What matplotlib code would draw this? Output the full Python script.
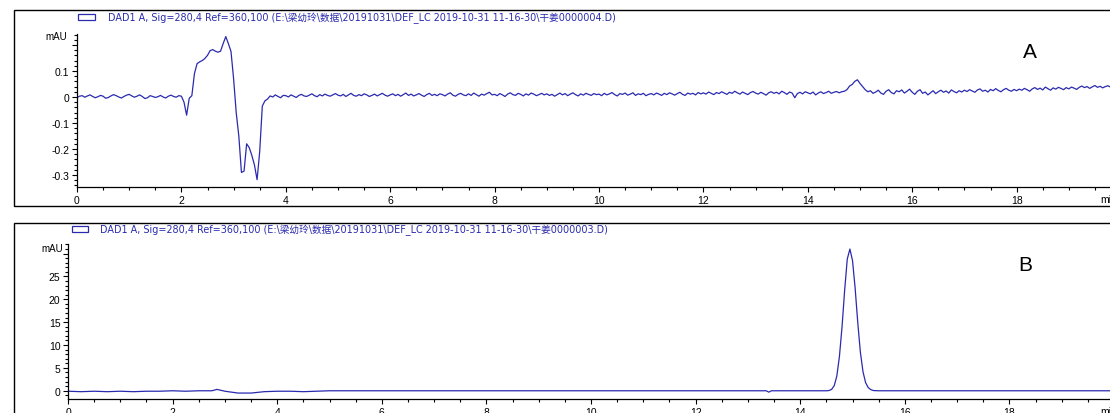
import matplotlib
matplotlib.use("Agg")
import matplotlib.pyplot as plt
import numpy as np
from matplotlib.patches import Rectangle
from matplotlib.ticker import MultipleLocator

plt.rcParams["font.family"] = ["Liberation Sans", "Noto Sans CJK SC", "DejaVu Sans"]

W, H = 1110, 414
BLUE = "#2a2ab0"

TITLE_A = r"DAD1 A, Sig=280,4 Ref=360,100 (E:\梁幼玲\数据\20191031\DEF_LC 2019-10-31 11-16-30\干姜0000004.D)"
TITLE_B = r"DAD1 A, Sig=280,4 Ref=360,100 (E:\梁幼玲\数据\20191031\DEF_LC 2019-10-31 11-16-30\干姜0000003.D)"

# trace A: one reading every 0.05 min, in 0.001 mAU
STEP_A = 0.05
SIGNAL_A = [
    -2, 3, 5, -1, 4, 8, 2, -3, 1, 6, 3, -5, -2, 4, 9, 5, 0, -4, 2, 7,
    10, 4, -1, 3, 8, 2, -6, -3, 5, 2, -2, 1, 6, 0, -4, 3, 7, 2, -1, 5,
    3, -20, -70, -5, 5, 90, 128, 135, 140, 148, 160, 178, 182, 176, 172, 176, 205, 232, 205, 175,
    70, -60, -150, -290, -285, -180, -195, -225, -262, -318, -210, -35, -15, -8, 4, 0, 8, 2, -3, 6,
    5, 0, 8, 3, -2, 6, 10, 4, 2, 7, 12, 5, 1, 9, 4, 11, 6, 3, 8, 13,
    7, 4, 10, 2, 8, 14, 6, 3, 9, 5, 12, 8, 2, 6, 11, 4, 9, 14, 7, 3,
    8, 12, 5, 10, 3, 9, 15, 6, 11, 4, 8, 13, 7, 2, 9, 14, 6, 10, 5, 12,
    9, 4, 11, 16, 7, 3, 10, 14, 8, 5, 12, 6, 15, 9, 3, 11, 7, 13, 18, 8,
    10, 5, 13, 8, 2, 11, 16, 9, 6, 14, 10, 4, 12, 7, 15, 11, 5, 9, 14, 8,
    12, 6, 10, 3, 9, 15, 8, 13, 5, 11, 16, 9, 4, 12, 7, 14, 10, 6, 13, 9,
    11, 5, 14, 8, 12, 17, 9, 4, 13, 10, 15, 7, 11, 16, 6, 12, 9, 14, 5, 10,
    13, 8, 15, 11, 6, 14, 9, 16, 12, 7, 13, 18, 10, 6, 15, 11, 14, 8, 17, 12,
    16, 11, 19, 14, 9, 17, 13, 20, 15, 10, 18, 14, 22, 16, 11, 19, 14, 9, 17, 21,
    15, 11, 18, 13, 7, 16, 20, 14, 18, 12, 22, 17, 10, 19, 15, -3, 13, 18, 12, 20,
    16, 12, 19, 8, 15, 20, 13, 17, 22, 14, 18, 21, 16, 20, 22, 28, 42, 48, 60, 66,
    52, 40, 28, 20, 24, 14, 19, 26, 15, 10, 22, 28, 17, 12, 24, 20, 27, 15, 22, 30,
    18, 10, 22, 28, 14, 19, 8, 16, 24, 13, 20, 26, 18, 23, 15, 27, 21, 16, 24, 19,
    26, 21, 28, 23, 18, 27, 31, 22, 26, 19, 29, 24, 32, 25, 20, 28, 33, 26, 22, 29,
    24, 30, 26, 33, 28, 22, 31, 36, 29, 34, 27, 38, 32, 26, 35, 30, 37, 33, 28, 36,
    31, 38, 34, 29, 37, 42, 36, 40, 33, 39, 44, 37, 41, 35, 40, 43, 38, 42, 36, 40,
]

# trace B: min / mAU
TIME_B = [0.0, 0.25, 0.5, 0.75, 1.0, 1.25, 1.5, 1.75, 2.0, 2.25, 2.5, 2.75, 2.85,
          3.0, 3.25, 3.5, 3.75, 4.0, 4.25, 4.5, 4.75,
          5.0, 5.5, 6.0, 6.5, 7.0, 7.5, 8.0, 8.5, 9.0, 9.5, 10.0, 10.5, 11.0, 11.5,
          12.0, 12.5, 13.0, 13.35, 13.4, 13.45, 14.0, 14.5,
          14.55, 14.6, 14.65, 14.7, 14.75, 14.8, 14.85, 14.9, 14.95, 15.0,
          15.05, 15.1, 15.15, 15.2, 15.25, 15.3, 15.35, 15.4, 15.5,
          16.0, 16.5, 17.0, 17.5, 18.0, 18.5, 19.0, 19.5, 20.0]
SIGNAL_B = [-0.1, -0.2, -0.1, -0.2, -0.1, -0.2, -0.1, -0.1, 0.0, -0.1, 0.0, 0.0, 0.3,
            -0.1, -0.5, -0.5, -0.2, -0.1, -0.1, -0.2, -0.1,
            0.0, 0.0, 0.0, 0.0, 0.0, 0.0, 0.0, 0.0, 0.0, 0.0, 0.0, 0.0, 0.0, 0.0,
            0.0, 0.0, 0.0, 0.0, -0.3, 0.0, 0.0, 0.0,
            0.05, 0.3, 1.1, 3.2, 7.5, 14.0, 22.0, 28.8, 31.0, 28.5,
            22.5, 15.0, 8.5, 4.2, 1.8, 0.7, 0.25, 0.05, 0.0,
            0.0, 0.0, 0.0, 0.0, 0.0, 0.0, 0.0, 0.0, 0.0]

# highest labelled y tick per panel (ChemStation leaves the top one for "mAU")
YLABEL_MAX_A = 0.1
YLABEL_MAX_B = 25


def fx(px):
    return px / W


def fy(py):
    return 1 - py / H


def style_axis(ax, ymajor, yminor, ylabel_max, fmt):
    for s in ("top", "right"):
        ax.spines[s].set_visible(False)
    for s in ("left", "bottom"):
        ax.spines[s].set_linewidth(0.9)
    ax.xaxis.set_major_locator(MultipleLocator(2))
    ax.xaxis.set_minor_locator(MultipleLocator(0.5))
    ax.yaxis.set_major_locator(MultipleLocator(ymajor))
    ax.yaxis.set_minor_locator(MultipleLocator(yminor))
    ax.yaxis.set_major_formatter(
        lambda v, p: "" if v > ylabel_max + 1e-9 else ("0" if abs(v) < 1e-9 else fmt(v)))
    ax.tick_params(which="both", direction="out", labelsize=7.5, width=0.8, pad=2)
    ax.tick_params(which="major", length=3.5)
    ax.tick_params(which="minor", length=2)
    ax.patch.set_alpha(0)


fig = plt.figure(figsize=(W / 100, H / 100), dpi=100)

# panel frames
fig.patches.append(Rectangle((fx(14), fy(207)), 1.2, fy(11) - fy(207),
                             transform=fig.transFigure, fill=False, lw=1, ec="black"))
fig.patches.append(Rectangle((fx(14), -0.2), 1.2, fy(224) + 0.2,
                             transform=fig.transFigure, fill=False, lw=1, ec="black"))

# --- A ---
axA = fig.add_axes([fx(77), fy(188), fx(W - 77), fy(35) - fy(188)])
time_a = np.arange(len(SIGNAL_A)) * STEP_A
axA.plot(time_a, np.array(SIGNAL_A) / 1000.0, color=BLUE, lw=0.9)
axA.set_xlim(0, (W - 77) / 52.2)
axA.set_ylim(-0.346, 0.242)
style_axis(axA, 0.1, 0.02, YLABEL_MAX_A, lambda v: f"{v:.1f}")

# --- B ---
axB = fig.add_axes([fx(68), fy(400), fx(W - 68), fy(245) - fy(400)])
axB.plot(TIME_B, SIGNAL_B, color=BLUE, lw=0.9)
axB.set_xlim(0, (W - 68) / 52.3)
axB.set_ylim(-1.8, 32.1)
style_axis(axB, 5, 1, YLABEL_MAX_B, lambda v: f"{v:.0f}")

# headers, legend boxes, units
fig.patches.append(Rectangle((fx(78), fy(21)), fx(17), fy(15) - fy(21),
                             transform=fig.transFigure, fill=False, lw=0.9, ec=BLUE))
fig.patches.append(Rectangle((fx(72), fy(233)), fx(16), fy(227) - fy(233),
                             transform=fig.transFigure, fill=False, lw=0.9, ec=BLUE))
head = ["DejaVu Sans", "Noto Sans CJK SC"]
fig.text(fx(108), fy(18), TITLE_A, fontsize=6.9, color=BLUE, va="center", ha="left", family=head)
fig.text(fx(100), fy(230), TITLE_B, fontsize=6.9, color=BLUE, va="center", ha="left", family=head)
fig.text(fx(67), fy(37), "mAU", fontsize=7, ha="right", va="center")
fig.text(fx(63), fy(249), "mAU", fontsize=7, ha="right", va="center")
fig.text(fx(1100), fy(200), "min", fontsize=7.5, ha="left", va="center")
fig.text(fx(1100), fy(412), "min", fontsize=7.5, ha="left", va="center")

fig.text(fx(1030), fy(52), "A", fontsize=15, ha="center", va="center")
fig.text(fx(1025), fy(266), "B", fontsize=15, ha="center", va="center")

fig.savefig("out.png", dpi=100)
